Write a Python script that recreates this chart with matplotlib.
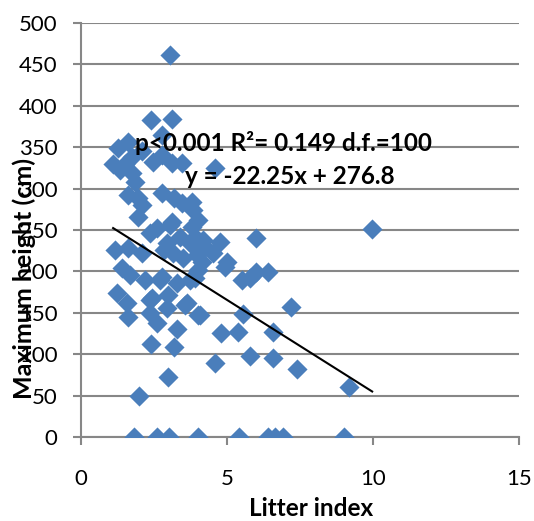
import matplotlib.pyplot as plt
import numpy as np

plt.rcParams['font.family'] = ['Lato', 'DejaVu Sans']

# litter index (x) and maximum height in cm (y)
litter = [3.05,
          2.4, 3.1, 2.77, 1.27, 1.6, 1.1, 1.75, 2.1, 1.5,
          2.47, 2.77, 3.1, 3.46, 4.59,
          1.34, 1.75, 1.85,
          1.6, 1.95, 2.77, 3.2, 3.8, 3.46,
          2.1, 1.95, 3.84, 4.0, 3.1,
          2.6, 3.05, 3.4, 2.95, 2.36, 2.85,
          1.16, 1.6, 2.09, 3.15, 3.73, 4.18, 4.76, 4.52, 5.0, 3.97, 4.0, 3.49, 4.14, 3.9, 3.8, 4.25,
          6.0,
          1.4, 1.68, 2.19, 2.7, 3.3, 3.73, 2.77, 3.9, 4.93,
          1.23, 1.57, 2.36, 2.95, 3.63, 2.43, 2.98, 3.56,
          5.79, 6.4, 6.0, 5.5,
          7.19, 5.55, 4.08,
          1.6, 2.36, 2.6, 3.28, 2.4, 3.18, 4.0,
          4.79, 5.38, 6.58, 4.59, 5.79, 6.58, 7.4, 9.18,
          2.98, 1.99, 9.97,
          1.8, 2.6, 3.0, 4.0, 5.4, 6.4, 6.65, 6.9, 9.0]
height = [461,
          383, 384, 365, 349, 356, 330, 338, 345, 330,
          332, 341, 331, 331, 325,
          322, 319, 308,
          292, 289, 295, 289, 284, 283,
          280, 266, 274, 262, 260,
          252, 256, 242, 234, 246, 226,
          226, 228, 222, 222, 234, 238, 236, 222, 211, 220, 202, 216, 211, 242, 254, 230,
          240,
          204, 196, 190, 190, 186, 190, 193, 192, 205,
          174, 162, 165, 156, 162, 168, 171, 159,
          192, 199, 199, 190,
          157, 149, 147,
          145, 150, 138, 131, 112, 109, 147,
          126, 127, 127, 89, 98, 95, 82, 60,
          72, 50, 251,
          0, 0, 0, 0, 0, 0, 0, 0, 0]

slope = -22.25
intercept = 276.8

fig = plt.figure(figsize=(5.34, 5.21), dpi=100)
ax = fig.add_axes([0.1517, 0.1612, 0.8203, 0.7947])

ax.grid(axis='y', color='#878787', linewidth=1.5)
ax.set_axisbelow(True)
ax.scatter(litter, height, marker='D', s=105, color='#4A7EBB', zorder=3, linewidths=0)

xl = np.array([min(litter), max(litter)])
ax.plot(xl, slope * xl + intercept, color='black', linewidth=1.5, zorder=4)

ax.text(1.85, 355, 'p<0.001 R²= 0.149 d.f.=100', fontsize=17.5, fontweight='bold', va='center', zorder=5)
ax.text(3.56, 315, 'y = -22.25x + 276.8', fontsize=17.5, fontweight='bold', va='center', zorder=5)

ax.set_xlim(0, 15)
ax.set_ylim(0, 500)
ax.set_xticks([0, 5, 10, 15])
ax.set_yticks(np.arange(0, 501, 50))
ax.tick_params(labelsize=16, colors='#878787', labelcolor='black', length=6, width=1.5)
ax.tick_params(axis='x', pad=17)
ax.tick_params(axis='y', pad=11)
for s in ['top', 'right']:
    ax.spines[s].set_visible(False)
for s in ['left', 'bottom']:
    ax.spines[s].set_color('#878787')
    ax.spines[s].set_linewidth(1.5)

ax.set_xlabel('Litter index', fontsize=17.5, fontweight='bold')
ax.set_ylabel('Maximum height (cm)', fontsize=18, fontweight='bold')
ax.xaxis.set_label_coords(0.525, -0.145)
ax.yaxis.set_label_coords(-0.103, 0.384)

fig.savefig('out.png')
